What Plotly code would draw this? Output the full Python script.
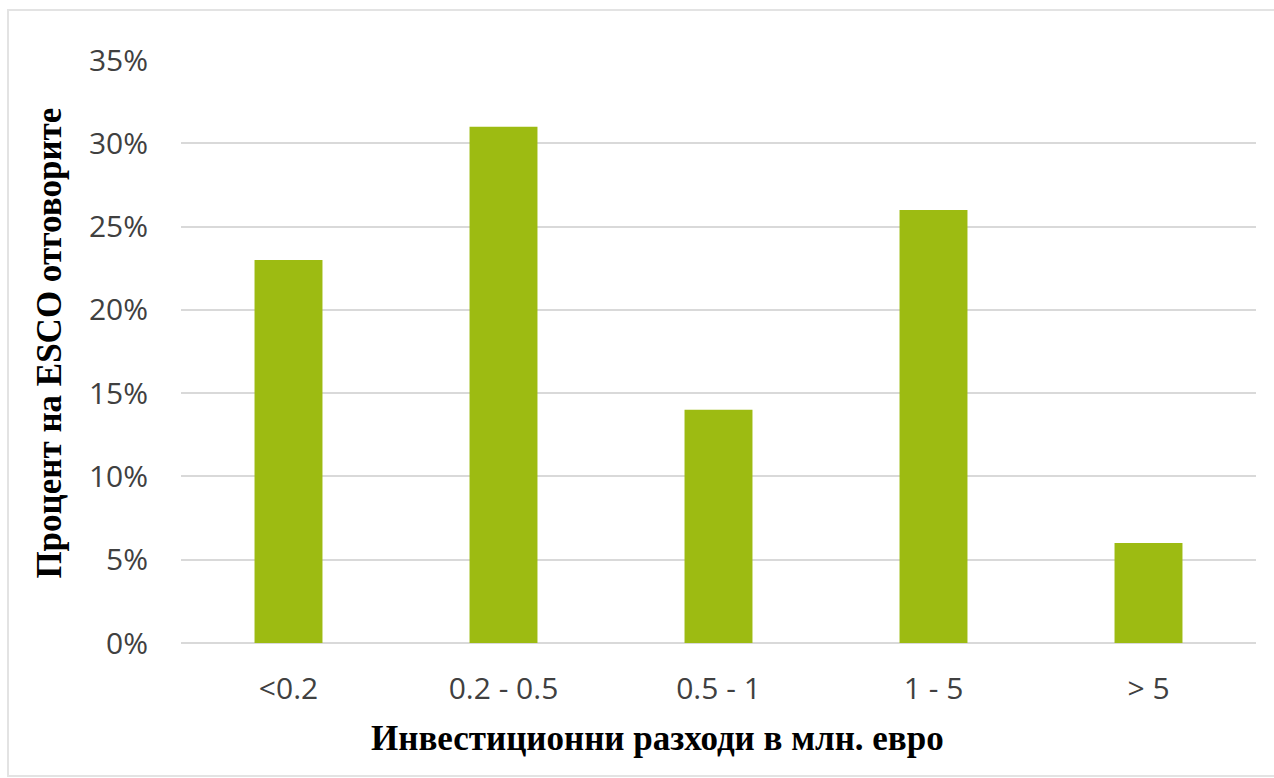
import plotly.graph_objects as go

categories = ["<0.2", "0.2 - 0.5", "0.5 - 1", "1 - 5", "> 5"]
values = [0.23, 0.31, 0.14, 0.26, 0.06]
y_ticks = [0, 0.05, 0.10, 0.15, 0.20, 0.25, 0.30, 0.35]
y_tick_labels = ["0%", "5%", "10%", "15%", "20%", "25%", "30%", "35%"]
x_title = "Инвестиционни разходи в млн. евро"
y_title = "Процент на ESCO отговорите"

fig = go.Figure(go.Bar(x=categories, y=values, marker=dict(color="#9DBB12", line=dict(width=0)),
                       hoverinfo="skip"))

fig.update_layout(
    width=1274, height=778,
    margin=dict(l=181, r=18, t=60, b=135),
    paper_bgcolor="white", plot_bgcolor="white",
    bargap=0.684,
    showlegend=False,
    font=dict(family="Open Sans", size=30, color="#595959"),
)
fig.update_xaxes(showgrid=False, showline=False, zeroline=False,
                 ticks="", ticklabelstandoff=25,
                 tickfont=dict(family="Open Sans", size=30, color="#404040"))
fig.update_yaxes(range=[0, 0.35], tickvals=y_ticks, ticktext=y_tick_labels,
                 showgrid=True, gridcolor="#D9D9D9", gridwidth=1.5,
                 zeroline=True, zerolinecolor="#D9D9D9", zerolinewidth=1.5,
                 showline=False, ticks="", ticklabelstandoff=32,
                 tickfont=dict(family="Open Sans", size=30, color="#404040"))

fig.add_annotation(text=x_title, xref="paper", yref="paper", x=0.443, y=-0.163,
                   xanchor="center", yanchor="middle", showarrow=False,
                   font=dict(family="Liberation Serif", size=35, color="black", weight="bold"))
fig.add_annotation(text=y_title, xref="paper", yref="paper", x=-0.122, y=0.515,
                   xanchor="center", yanchor="middle", showarrow=False, textangle=-90,
                   font=dict(family="Liberation Serif", size=35, color="black", weight="bold"))

fig.add_shape(type="rect", xref="paper", yref="paper", layer="below",
              x0=-173/1075, x1=1.06, y0=-133/583, y1=(643-10)/583,
              line=dict(color="#E3E3E3", width=2), fillcolor="rgba(0,0,0,0)")

fig.write_html("out.html")
